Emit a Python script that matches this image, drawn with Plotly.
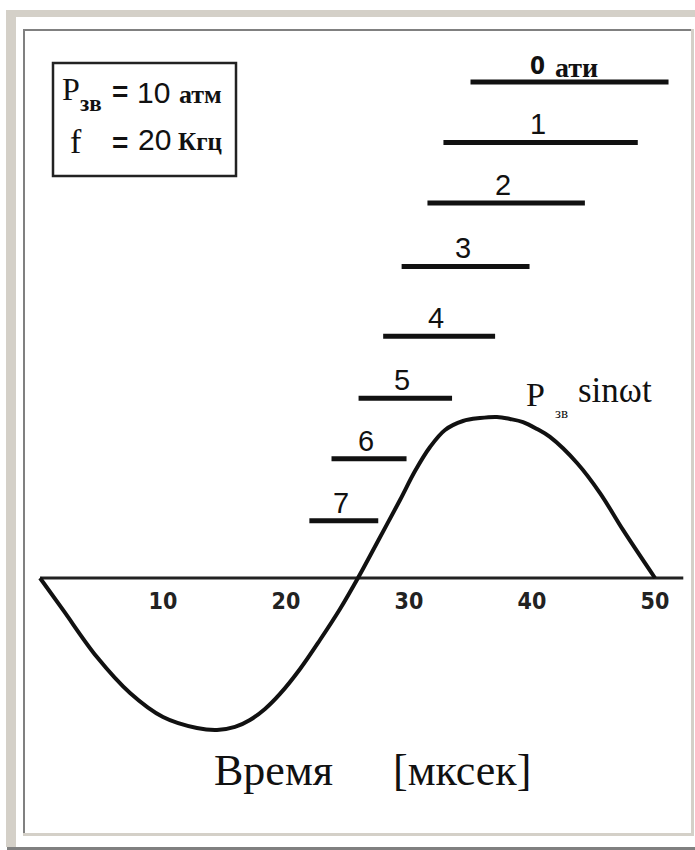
import plotly.graph_objects as go

W, H = 695, 850

# Sound pressure wave: time (мксек) and pressure (атм)
time_us = [0.0, 1.87, 4.63, 7.32, 10.0, 12.76, 14.39, 15.85, 17.07, 18.29,
           19.51, 21.14, 22.76, 24.39, 25.85, 27.48, 29.27, 30.49, 31.71,
           32.93, 34.39, 35.77, 37.15, 38.21, 39.27, 40.41, 41.46, 43.66,
           45.53, 47.4, 50.0]
pressure = [0.0, -2.06, -5.1, -7.42, -8.97, -9.68, -9.81, -9.61, -9.16, -8.45,
            -7.48, -5.87, -4.0, -2.0, 0.0, 2.39, 5.03, 6.9, 8.45,
            9.55, 10.13, 10.32, 10.39, 10.26, 10.06, 9.61, 9.1, 7.42,
            5.48, 3.1, 0.0]

# Time axis baseline extent
axis_t = [0.0, 52.3]

# Static pressure levels (ати): horizontal bars
bar_labels = ["0 ати", "1", "2", "3", "4", "5", "6", "7"]
bar_start = [35.0, 32.8, 31.5, 29.4, 27.9, 25.9, 23.7, 21.9]
bar_end = [51.1, 48.6, 44.3, 39.8, 37.0, 33.5, 29.8, 27.5]
bar_level = [32.0, 28.1, 24.2, 20.1, 15.6, 11.6, 7.7, 3.7]

tick_vals = [10, 20, 30, 40, 50]
tick_text = ["10", "20", "30", "40", "50"]

# scale: 12.3 px per мксек, 15.5 px per атм; t=0 at x=40 px, p=0 at y=578 px
X0_PX, X_SCALE = 40, 12.3
Y0_PX, Y_SCALE = 578, 15.5
x_range = [-X0_PX / X_SCALE, (W - X0_PX) / X_SCALE]
y_range = [(Y0_PX - H) / Y_SCALE, Y0_PX / Y_SCALE]

INK = "#111111"
SERIF = "Liberation Serif, Times New Roman, serif"
SANS = "Liberation Sans, Arial, sans-serif"
NARROW = "Liberation Sans Narrow, DejaVu Sans Condensed, Arial Narrow, sans-serif"


def px(x):
    return x / W


def py(y):
    return 1 - y / H


fig = go.Figure()

# baseline of the time axis
fig.add_trace(go.Scatter(x=axis_t, y=[0, 0], mode="lines",
                         line=dict(color="#222222", width=3),
                         hoverinfo="skip", showlegend=False))

# pressure wave
fig.add_trace(go.Scatter(x=time_us, y=pressure, mode="lines",
                         line=dict(color=INK, width=4, shape="spline", smoothing=1.0),
                         hoverinfo="skip", showlegend=False))

# level bars
for s, e, lv in zip(bar_start, bar_end, bar_level):
    fig.add_trace(go.Scatter(x=[s, e], y=[lv, lv], mode="lines",
                             line=dict(color=INK, width=5),
                             hoverinfo="skip", showlegend=False))

annotations = []

# level labels above bars
for lab, s, e, lv in zip(bar_labels, bar_start, bar_end, bar_level):
    xc = (s + e) / 2
    if lab == "0 ати":
        num, unit = lab.split(" ")
        annotations.append(dict(x=xc, y=lv, xref="x", yref="y", text=num,
                                showarrow=False, xshift=-32, yshift=16,
                                font=dict(family=NARROW, size=24, color=INK, weight="bold")))
        annotations.append(dict(x=xc, y=lv, xref="x", yref="y", text=unit,
                                showarrow=False, xshift=7, yshift=15,
                                font=dict(family=SERIF, size=28, color=INK, weight="bold")))
    else:
        annotations.append(dict(x=xc, y=lv, xref="x", yref="y", text=lab,
                                showarrow=False, xshift=-3, yshift=18,
                                font=dict(family=SANS, size=29, color=INK)))

# wave label
annotations += [
    dict(x=px(535), y=py(394), text="P", font=dict(family=SERIF, size=34, color=INK)),
    dict(x=px(561), y=py(413), text="зв", font=dict(family=SERIF, size=15, color=INK)),
    dict(x=px(615), y=py(391), text="sinωt", font=dict(family=SERIF, size=35, color=INK)),
]

# parameter box contents
annotations += [
    dict(x=px(71), y=py(89), text="P", font=dict(family=SERIF, size=32, color=INK)),
    dict(x=px(91), y=py(104), text="зв", font=dict(family=SERIF, size=23, color=INK, weight="bold")),
    dict(x=px(120), y=py(91), text="=", font=dict(family=SANS, size=28, color=INK, weight="bold")),
    dict(x=px(153), y=py(92), text="10", font=dict(family=SANS, size=30, color=INK)),
    dict(x=px(200), y=py(94), text="атм", font=dict(family=SERIF, size=26, color=INK, weight="bold")),
    dict(x=px(76), y=py(142), text="f", font=dict(family=SERIF, size=34, color=INK)),
    dict(x=px(120), y=py(143), text="=", font=dict(family=SANS, size=28, color=INK, weight="bold")),
    dict(x=px(154), y=py(140), text="20", font=dict(family=SANS, size=30, color=INK)),
    dict(x=px(200), y=py(142), text="Кгц", font=dict(family=SERIF, size=25, color=INK, weight="bold")),
]

# axis title
annotations += [
    dict(x=px(273), y=py(770), text="Время", font=dict(family=SERIF, size=44, color=INK)),
    dict(x=px(462), y=py(770), text="[мксек]", font=dict(family=SERIF, size=44, color=INK)),
]

for a in annotations:
    a.setdefault("xref", "paper")
    a.setdefault("yref", "paper")
    a.setdefault("showarrow", False)
    a.setdefault("xanchor", "center")
    a.setdefault("yanchor", "middle")

LIGHT = "#d4d0c8"
DARK = "#808080"


def rect(x0, y0, x1, y1, color, line=None):
    d = dict(type="rect", xref="paper", yref="paper",
             x0=px(x0), x1=px(x1), y0=py(y1), y1=py(y0), layer="below")
    if line is None:
        d.update(fillcolor=color, line=dict(width=0))
    else:
        d.update(fillcolor="rgba(0,0,0,0)", line=dict(color=color, width=line))
    return d


shapes = [
    # sunken window frame
    rect(6, 10, 695, 17, LIGHT),
    rect(6, 10, 16, 847, LIGHT),
    rect(23, 29, 692, 31, DARK),
    rect(23, 29, 25, 834, DARK),
    rect(23, 833, 693, 836, LIGHT),
    rect(691, 29, 694, 836, LIGHT),
    rect(7, 847, 695, 850, DARK),
    # parameter box
    rect(53, 63, 236, 176, "#222222", line=2.5),
]

fig.update_layout(
    width=W, height=H,
    margin=dict(l=0, r=0, t=0, b=0, pad=0),
    paper_bgcolor="white", plot_bgcolor="white",
    showlegend=False,
    annotations=annotations,
    shapes=shapes,
    xaxis=dict(range=x_range, anchor="free", position=py(Y0_PX),
               showgrid=False, zeroline=False, showline=False,
               ticks="", tickmode="array", tickvals=tick_vals, ticktext=tick_text,
               ticklabelstandoff=7,
               tickfont=dict(family=NARROW, size=23, color="#222222", weight="bold"),
               automargin=False, fixedrange=True),
    yaxis=dict(range=y_range, visible=False, showgrid=False, zeroline=False,
               automargin=False, fixedrange=True),
)

fig.write_html("out.html")
